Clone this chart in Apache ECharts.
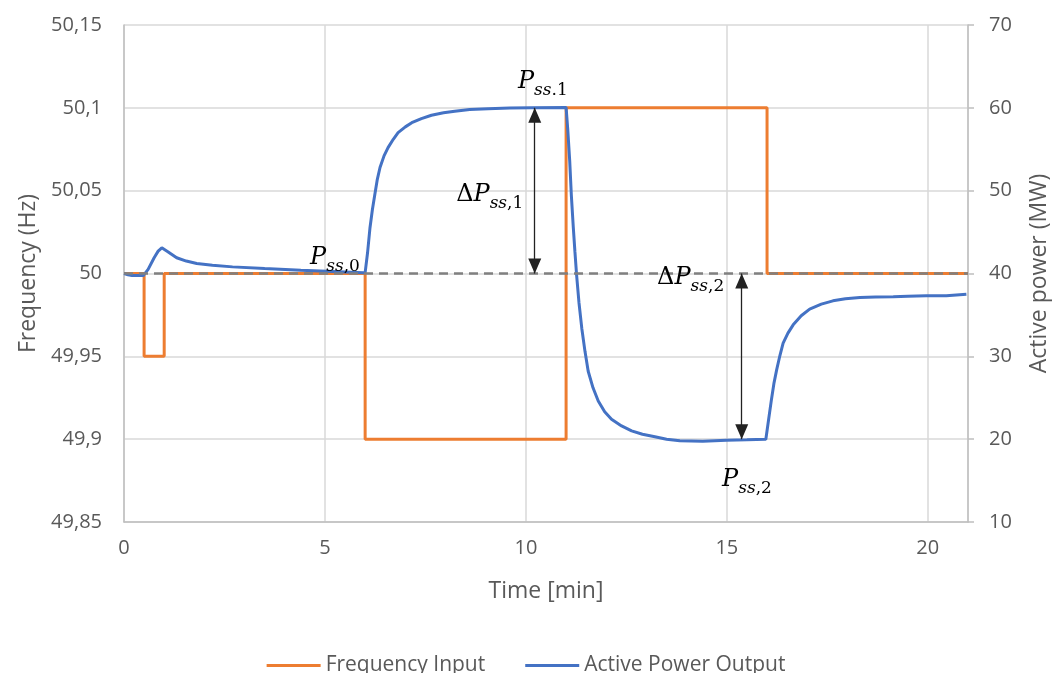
<!DOCTYPE html>
<html>
<head>
<meta charset="utf-8">
<script src="https://cdn.jsdelivr.net/npm/echarts@6/dist/echarts.min.js"></script>
<style>
html,body{margin:0;padding:0;background:#fff;}
#chart{width:1052px;height:673px;}
</style>
</head>
<body>
<div id="chart"></div>
<script>
// Frequency input (step signal), left axis [Hz]
const freqTime = [0, 0.5, 0.5, 1, 1, 6, 6, 11, 11, 16, 16, 21];
const freqValue = [50, 50, 49.95, 49.95, 50, 50, 49.9, 49.9, 50.1, 50.1, 50, 50];

// Active power output, right axis [MW]
const powerTime = [0, 0.1, 0.2, 0.48, 0.6, 0.75, 0.85, 0.94, 1.1, 1.31, 1.55, 1.81, 2.2, 2.7, 3.5, 4.4, 5.2, 5.95,
  6.0, 6.06, 6.12, 6.18, 6.24, 6.3, 6.37, 6.47, 6.57, 6.7, 6.82, 7.0, 7.16, 7.4, 7.65, 7.95, 8.23, 8.6, 9.06, 9.6, 10.14, 11.0,
  11.04, 11.09, 11.13, 11.18, 11.22, 11.26, 11.32, 11.39, 11.47, 11.55, 11.67, 11.8, 11.96, 12.13, 12.38, 12.63, 12.9,
  13.21, 13.5, 13.83, 14.4, 14.99, 15.5, 15.97,
  16.04, 16.11, 16.17, 16.24, 16.32, 16.4, 16.52, 16.65, 16.85, 17.06, 17.35, 17.64, 17.95, 18.31, 18.7, 19.14, 19.5,
  19.96, 20.46, 20.96];
const powerValue = [40.0, 39.85, 39.75, 39.75, 40.5, 41.9, 42.7, 43.1, 42.6, 41.9, 41.5, 41.2, 41.0, 40.8, 40.6, 40.4, 40.25, 40.1,
  40.1, 42.5, 45.5, 47.7, 49.5, 51.3, 52.8, 54.2, 55.2, 56.2, 57.0, 57.7, 58.2, 58.7, 59.1, 59.4, 59.6, 59.8, 59.9, 59.97, 60.0, 60.05,
  57.5, 53.6, 49.5, 45.5, 42.6, 39.9, 36.5, 33.4, 30.6, 28.2, 26.2, 24.6, 23.3, 22.4, 21.6, 21.0, 20.6,
  20.3, 20.0, 19.8, 19.75, 19.87, 19.93, 20.0,
  22.4, 24.8, 26.7, 28.4, 30.1, 31.6, 32.8, 33.8, 34.9, 35.7, 36.3, 36.7, 36.95, 37.1, 37.15, 37.2, 37.25,
  37.3, 37.3, 37.5];

// Annotations (time [min], power [MW])
const arrow1 = {t: 10.22, from: 60, to: 40};
const arrow2 = {t: 15.37, from: 40, to: 20};
const labelNames = ['Pss0', 'Pss1', 'dPss1', 'dPss2', 'Pss2'];
const labelTime = [5.25, 10.42, 9.1, 14.1, 15.5];
const labelPower = [41.9, 63.1, 49.5, 39.5, 15.1];
const labelText = [
  '{P|P}{s|ss}{n|,0}',
  '{P|P}{s|ss}{n|.1}',
  '{D|Δ}{P|P}{s|ss}{n|,1}',
  '{D|Δ}{P|P}{s|ss}{n|,2}',
  '{P|P}{s|ss}{n|,2}'
];

const freqData = freqTime.map((t, i) => [t, freqValue[i]]);
const powerData = powerTime.map((t, i) => [t, powerValue[i]]);

const grey = '#595959';
const font = 'Open Sans';
const serif = 'DejaVu Serif';
// arrow head: tip at the centre of the symbol box, body pointing inward
const arrowHead = 'path://M0,16L7,32L-7,32Z M0,0L0,0.01';

const rich = {
  P: {fontFamily: serif, fontStyle: 'italic', fontSize: 24, lineHeight: 34, color: '#000'},
  D: {fontFamily: serif, fontSize: 24, lineHeight: 34, color: '#000'},
  s: {fontFamily: serif, fontStyle: 'italic', fontSize: 17, lineHeight: 13, verticalAlign: 'bottom', color: '#000'},
  n: {fontFamily: serif, fontSize: 17, lineHeight: 13, verticalAlign: 'bottom', color: '#000'}
};

const chart = echarts.init(document.getElementById('chart'));
chart.setOption({
  animation: false,
  backgroundColor: '#fff',
  grid: {left: 124, right: 84, top: 25, bottom: 151, containLabel: false, outerBoundsMode: 'none'},
  legend: {
    bottom: -8, left: 'center',
    itemWidth: 54, itemHeight: 3, itemGap: 40, icon: 'rect',
    textStyle: {fontFamily: font, fontSize: 21, color: grey, padding: [0, 0, 0, 0]},
    data: ['Frequency Input', 'Active Power Output']
  },
  xAxis: {
    type: 'value', min: 0, max: 21, interval: 5,
    name: 'Time [min]', nameLocation: 'middle', nameGap: 58,
    nameTextStyle: {fontFamily: font, fontSize: 23, color: grey},
    axisLine: {show: true, lineStyle: {color: '#bfbfbf', width: 1.5}},
    axisTick: {show: false},
    axisLabel: {fontFamily: font, fontSize: 20, color: grey, margin: 16, showMaxLabel: false},
    splitLine: {show: true, lineStyle: {color: '#d9d9d9', width: 1.5}}
  },
  yAxis: [{
    type: 'value', min: 49.85, max: 50.15, interval: 0.05,
    name: 'Frequency (Hz)', nameLocation: 'middle', nameGap: 84, nameRotate: 90,
    nameTextStyle: {fontFamily: font, fontSize: 23, color: grey},
    axisLine: {show: true, lineStyle: {color: '#bfbfbf', width: 1.5}},
    axisTick: {show: false},
    axisLabel: {fontFamily: font, fontSize: 20, color: grey, margin: 22,
      formatter: v => String(+v.toFixed(2)).replace('.', ',')},
    splitLine: {show: true, lineStyle: {color: '#d9d9d9', width: 1.5}}
  }, {
    type: 'value', min: 10, max: 70, interval: 10,
    name: 'Active power (MW)', nameLocation: 'middle', nameGap: 60, nameRotate: 90,
    nameTextStyle: {fontFamily: font, fontSize: 23, color: grey},
    axisLine: {show: true, lineStyle: {color: '#bfbfbf', width: 1.5}},
    axisTick: {show: true, length: 6, lineStyle: {color: '#bfbfbf', width: 1.5}},
    axisLabel: {fontFamily: font, fontSize: 20, color: grey, margin: 21},
    splitLine: {show: false}
  }],
  series: [{
    name: 'Frequency Input', type: 'line', yAxisIndex: 0,
    data: freqData, showSymbol: false, symbol: 'none',
    lineStyle: {color: '#ED7D31', width: 3},
    itemStyle: {color: '#ED7D31'},
    z: 3,
    markLine: {
      silent: true, symbol: 'none', label: {show: false},
      lineStyle: {color: '#808080', type: [9, 6], width: 2.5},
      emphasis: {disabled: true},
      data: [{yAxis: 50}]
    }
  }, {
    name: 'Active Power Output', type: 'line', yAxisIndex: 1,
    data: powerData, showSymbol: false, symbol: 'none',
    smooth: false,
    lineStyle: {color: '#4472C4', width: 3},
    itemStyle: {color: '#4472C4'},
    z: 4,
    markLine: {
      silent: true, symbol: [arrowHead, arrowHead], symbolSize: [13, 30],
      label: {show: false},
      lineStyle: {color: '#222', type: 'solid', width: 1.3},
      itemStyle: {color: '#000'},
      emphasis: {disabled: true},
      data: [
        [{coord: [arrow1.t, arrow1.from]}, {coord: [arrow1.t, arrow1.to]}],
        [{coord: [arrow2.t, arrow2.from]}, {coord: [arrow2.t, arrow2.to]}]
      ]
    },
    markPoint: {
      silent: true, symbol: 'circle', symbolSize: 1,
      itemStyle: {color: 'rgba(0,0,0,0)'},
      label: {show: true, position: 'inside', rich: rich},
      data: labelNames.map((nm, i) => ({
        name: nm, coord: [labelTime[i], labelPower[i]],
        label: {formatter: labelText[i]}
      }))
    }
  }]
});
</script>
</body>
</html>
